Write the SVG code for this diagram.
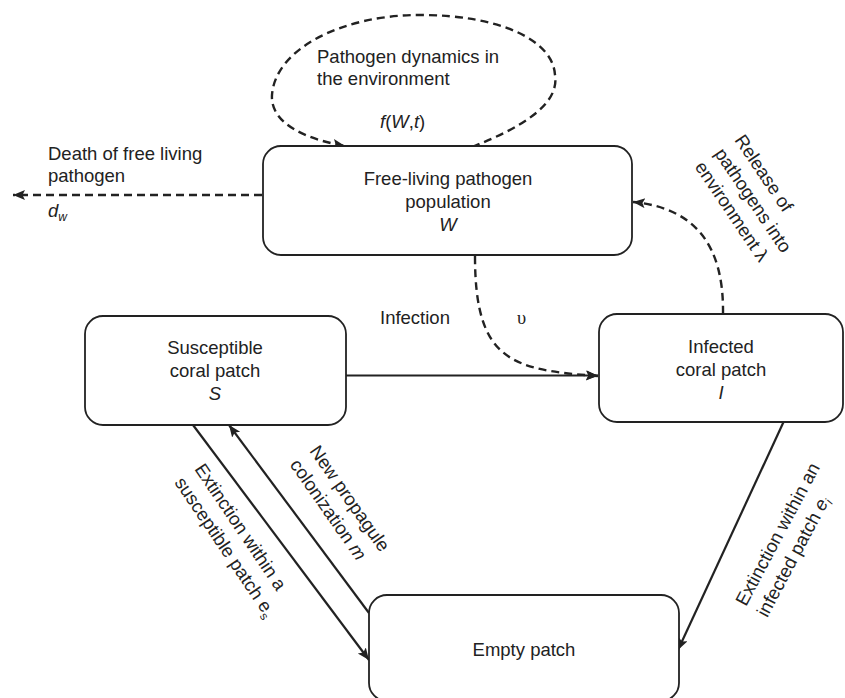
<svg xmlns="http://www.w3.org/2000/svg" width="845" height="698" viewBox="0 0 845 698">
<style>
.box{fill:#fff;stroke:#222;stroke-width:1.8}
.t{font-family:"Liberation Sans",Arial,sans-serif;font-size:18.5px;fill:#222}
.c{text-anchor:middle}
.i{font-style:italic}
.solid{fill:none;stroke:#222;stroke-width:2.2}
.dash{fill:none;stroke:#222;stroke-width:2.4;stroke-dasharray:8 5}
</style>
<defs>
<marker id="ah" markerUnits="userSpaceOnUse" markerWidth="14" markerHeight="12" refX="12" refY="5" orient="auto">
<path d="M0,0 L12,5 L0,10 L2.5,5 z" fill="#222"/>
</marker>
</defs>
<rect width="845" height="698" fill="#fff"/>
<g id="connectors">
<path class="dash" d="M472,147 C520,128 560,105 555,75 C553,40 500,15 420,15 C340,15 275,50 272,95 C270,125 310,140 345,146" marker-end="url(#ah)"/>
<path class="dash" d="M262,195 L13,195" marker-end="url(#ah)"/>
<path class="dash" d="M723,314 C724,245 695,208 633,202" marker-end="url(#ah)"/>
<path class="dash" d="M475,256 C475,360 510,370 598,376" marker-end="url(#ah)"/>
<path class="solid" d="M346,375.5 L598,375.5" marker-end="url(#ah)"/>
<path class="solid" d="M193,425 L369,660" marker-end="url(#ah)"/>
<path class="solid" d="M369,613 L229,425" marker-end="url(#ah)"/>
<path class="solid" d="M784,421 L678,650" marker-end="url(#ah)"/>
</g>
<g id="labels">
<text class="t" x="317" y="63">Pathogen dynamics in</text>
<text class="t" x="317" y="85">the environment</text>
<text class="t" x="380" y="128"><tspan class="i">f</tspan>(<tspan class="i">W</tspan>,<tspan class="i">t</tspan>)</text>
<text class="t" x="48" y="160">Death of free living</text>
<text class="t" x="48" y="182">pathogen</text>
<text class="t" x="48" y="217"><tspan class="i">d</tspan><tspan class="i" font-size="12" dy="4">w</tspan></text>
<text class="t" x="380" y="324">Infection</text>
<text class="t" x="517" y="324" style="font-family:'Liberation Serif',serif">υ</text>
<g transform="translate(734,140) rotate(56)">
<text class="t" x="0" y="0">Release of</text>
<text class="t" x="0" y="24">pathogens into</text>
<text class="t" x="0" y="48">environment λ</text>
</g>
<g transform="translate(194,469) rotate(56)">
<text class="t" x="0" y="0">Extinction within a</text>
<text class="t" x="0" y="24">susceptible patch e<tspan font-size="12" dy="4">s</tspan></text>
</g>
<g transform="translate(309,451) rotate(55)">
<text class="t" x="0" y="0">New propagule</text>
<text class="t" x="0" y="24">colonization <tspan class="i">m</tspan></text>
</g>
<g transform="translate(746,607) rotate(-62)">
<text class="t" x="0" y="0">Extinction within an</text>
<text class="t" x="0" y="24">infected patch <tspan class="i">e</tspan><tspan class="i" font-size="12" dy="4">i</tspan></text>
</g>
</g>
<g id="free-living">
<rect class="box" x="263" y="146" width="369" height="109" rx="18"/>
<text class="t c" x="448" y="185">Free-living pathogen</text>
<text class="t c" x="448" y="208">population</text>
<text class="t c i" x="448" y="231">W</text>
</g>
<g id="susceptible">
<rect class="box" x="85" y="316" width="261" height="109" rx="18"/>
<text class="t c" x="215" y="354">Susceptible</text>
<text class="t c" x="215" y="377">coral patch</text>
<text class="t c i" x="215" y="400">S</text>
</g>
<g id="infected">
<rect class="box" x="599" y="314" width="244" height="108" rx="18"/>
<text class="t c" x="721" y="353">Infected</text>
<text class="t c" x="721" y="376">coral patch</text>
<text class="t c i" x="721" y="399">I</text>
</g>
<g id="empty">
<rect class="box" x="369" y="595" width="310" height="106" rx="18"/>
<text class="t c" x="524" y="656">Empty patch</text>
</g>
</svg>
